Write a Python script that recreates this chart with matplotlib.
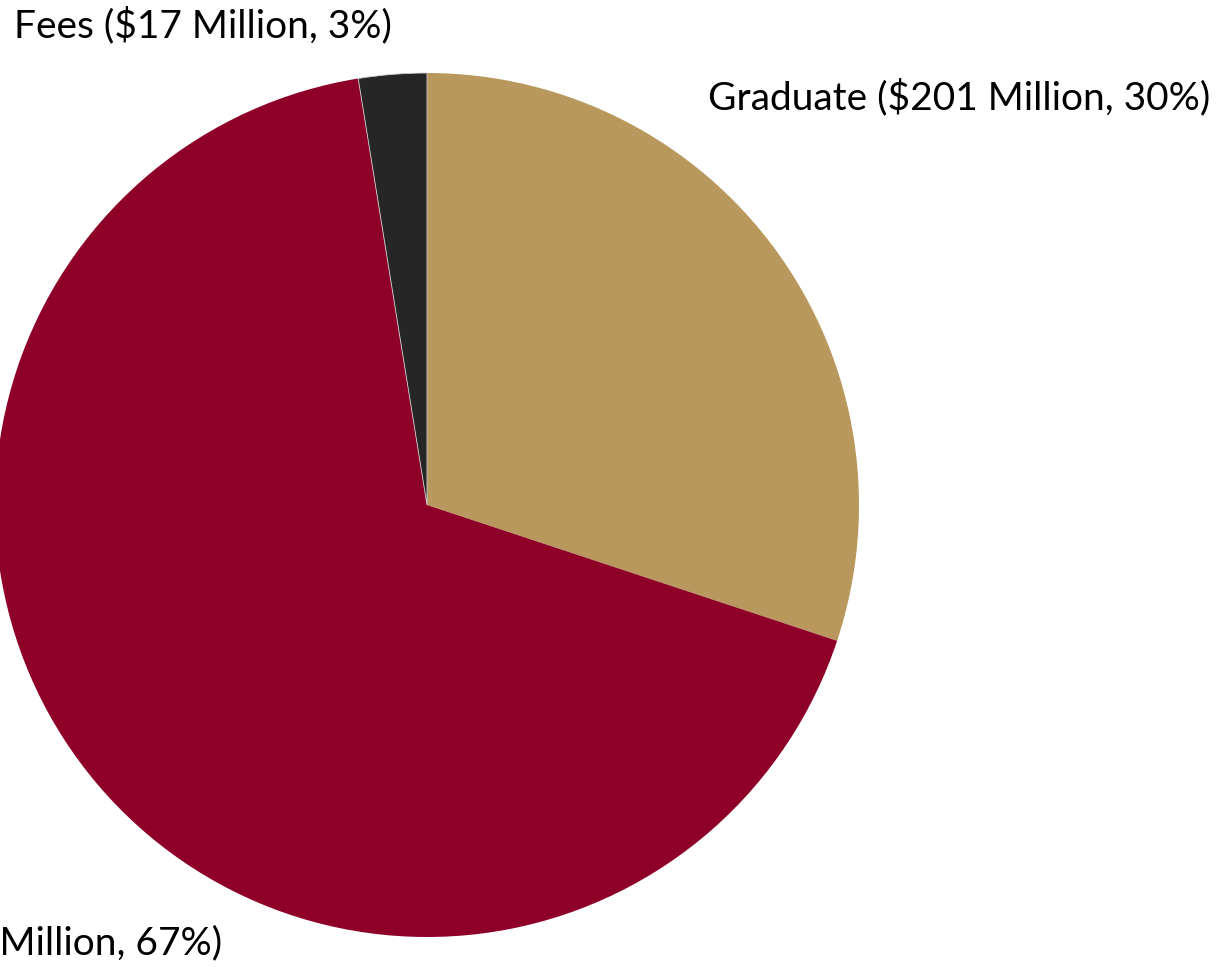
import matplotlib
matplotlib.use("Agg")
import matplotlib.pyplot as plt

categories = ["Graduate", "Undergraduate", "Fees"]
values = [201, 450, 17]          # $ millions
percents = [30, 67, 3]
colors = ["#B8985C", "#8F0029", "#262626"]

W, H = 1219, 967
fig = plt.figure(figsize=(W / 100, H / 100), dpi=100)
ax = fig.add_axes([0, 0, 1, 1])

wedges, _ = ax.pie(values, colors=colors, startangle=90, counterclock=False,
                   center=(427, H - 505), radius=432, frame=True,
                   wedgeprops=dict(linewidth=0))
# thin light seam along the small fees wedge
wedges[2].set_edgecolor("#cfcfcf")
wedges[2].set_linewidth(0.6)

ax.set_xlim(0, W)
ax.set_ylim(0, H)
ax.set_aspect("equal")
ax.axis("off")

labels = [f"{c} (${v} Million, {p}%)" for c, v, p in zip(categories, values, percents)]
font = dict(family=["Lato", "DejaVu Sans"], fontsize=28, color="#000000")

ax.text(708, H - 97, labels[0], ha="left", va="center", **font)
ax.text(222, H - 943, labels[1], ha="right", va="center", **font)
ax.text(14, H - 25, labels[2], ha="left", va="center", **font)

fig.savefig("out.png", dpi=100)
